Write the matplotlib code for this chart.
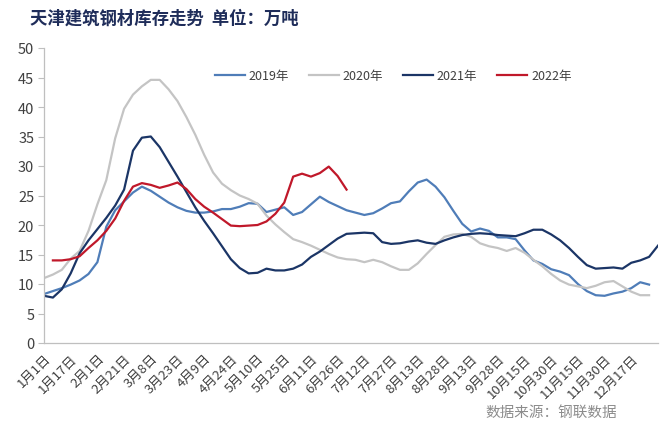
import numpy as np
import matplotlib
matplotlib.use("Agg")
import matplotlib.pyplot as plt

plt.rcParams['font.family'] = ['Noto Sans CJK SC', 'DejaVu Sans']

nan = np.nan
tick_labels = ["1月1日", "1月17日", "2月1日", "2月21日", "3月8日", "3月23日", "4月9日",
               "4月24日", "5月10日", "5月25日", "6月11日", "6月26日", "7月12日", "7月27日",
               "8月13日", "8月28日", "9月13日", "9月28日", "10月15日", "10月30日",
               "11月15日", "11月30日", "12月17日"]

y2019 = [8.3, 8.8, 9.3, 9.9, 10.6, 11.7, 13.7, 19.7, 22.5, 24.0,
         25.5, 26.5, 25.8, 24.8, 23.8, 23.0, 22.4, 22.1, 22.1, 22.3,
         22.7, 22.7, 23.1, 23.7, 23.6, 22.2, 22.6, 23.0, 21.7, 22.2,
         23.5, 24.8, 23.9, 23.2, 22.5, 22.1, 21.7, 22.0, 22.8, 23.7,
         24.0, 25.7, 27.2, 27.7, 26.5, 24.7, 22.4, 20.2, 18.9, 19.4,
         19.0, 17.9, 17.9, 17.6, 15.7, 14.0, 13.4, 12.5, 12.1, 11.5,
         10.0, 8.8, 8.1, 8.0, 8.4, 8.7, 9.3, 10.3, 9.9, nan]
y2020 = [11.0, 11.6, 12.4, 14.3, 15.6, 19.0, 23.5, 27.6, 34.7, 39.7,
         42.1, 43.5, 44.6, 44.6, 43.0, 41.0, 38.3, 35.3, 31.9, 28.9,
         27.0, 25.9, 25.0, 24.4, 23.6, 21.6, 20.1, 18.8, 17.6, 17.1,
         16.5, 15.8, 15.1, 14.5, 14.2, 14.1, 13.7, 14.1, 13.7, 13.0,
         12.4, 12.4, 13.5, 15.1, 16.6, 18.0, 18.4, 18.5, 18.0, 16.9,
         16.4, 16.1, 15.6, 16.1, 15.3, 14.1, 13.0, 11.7, 10.6, 9.9,
         9.6, 9.3, 9.7, 10.3, 10.5, 9.6, 8.7, 8.1, 8.1, nan]
y2021 = [8.0, 7.7, 9.1, 11.8, 15.2, 17.4, 19.3, 21.2, 23.3, 26.0,
         32.6, 34.8, 35.0, 33.2, 30.7, 28.2, 25.6, 23.0, 20.7, 18.6,
         16.4, 14.2, 12.7, 11.8, 11.9, 12.6, 12.3, 12.3, 12.6, 13.3,
         14.6, 15.5, 16.6, 17.7, 18.5, 18.6, 18.7, 18.6, 17.1, 16.8,
         16.9, 17.2, 17.4, 17.0, 16.8, 17.4, 17.9, 18.3, 18.5, 18.6,
         18.5, 18.3, 18.2, 18.1, 18.6, 19.2, 19.2, 18.4, 17.4, 16.1,
         14.6, 13.2, 12.6, 12.7, 12.8, 12.6, 13.6, 14.0, 14.6, 16.5]
y2022 = [nan, 14.0, 14.0, 14.2, 14.7, 16.1, 17.4, 19.0, 21.1, 24.1,
         26.5, 27.1, 26.8, 26.3, 26.7, 27.2, 26.1, 24.4, 23.1, 22.1,
         21.0, 19.9, 19.8, 19.9, 20.0, 20.6, 21.9, 23.8, 28.2, 28.7,
         28.2, 28.8, 29.9, 28.3, 26.0] + [nan] * 35

series_names = ["2019年", "2020年", "2021年", "2022年"]
colors = ["#4F7DB8", "#C4C4C4", "#1B3566", "#C0182A"]

fig = plt.figure(figsize=(6.6, 4.27), dpi=100)
ax = fig.add_axes([44/660, 1-344/427, 614/660, 295/427])

x = np.arange(len(y2021))
for ys, name, c in zip([y2019, y2020, y2021, y2022], series_names, colors):
    ax.plot(x, ys, color=c, lw=1.6, label=name, solid_joinstyle='round')

ax.set_xlim(0, len(x) - 1)
ax.set_ylim(0, 50)
ax.set_yticks(np.arange(0, 51, 5))
ax.tick_params(axis='y', labelsize=10.5, labelcolor='#404040', color='#BFBFBF',
               length=4, width=0.8, pad=3)
ax.set_xticks(np.arange(0, len(tick_labels) * 3, 3))
ax.set_xticklabels(tick_labels, rotation=45, ha='right', rotation_mode='anchor',
                   fontsize=9.5, color='#404040')
ax.tick_params(axis='x', length=0, pad=6)
for s in ['top', 'right']:
    ax.spines[s].set_visible(False)
for s in ['left', 'bottom']:
    ax.spines[s].set_color('#BFBFBF')
    ax.spines[s].set_linewidth(0.9)
ax.patch.set_visible(False)

ax.legend(loc='upper left', bbox_to_anchor=(0.27, 0.946), ncol=4, frameon=False,
          fontsize=9, handlelength=2.4, handletextpad=0.3, columnspacing=1.6,
          labelcolor='#404040', borderaxespad=0)

fig.text(0.045, 0.978, "天津建筑钢材库存走势  单位：万吨", fontsize=12.5,
         fontweight='bold', color='#1F2D5A', va='top', ha='left')
fig.text(0.735, 0.033, "数据来源：钢联数据", fontsize=10.5, color='#8C8C8C',
         va='center', ha='left')

fig.savefig("out.png", dpi=100)
